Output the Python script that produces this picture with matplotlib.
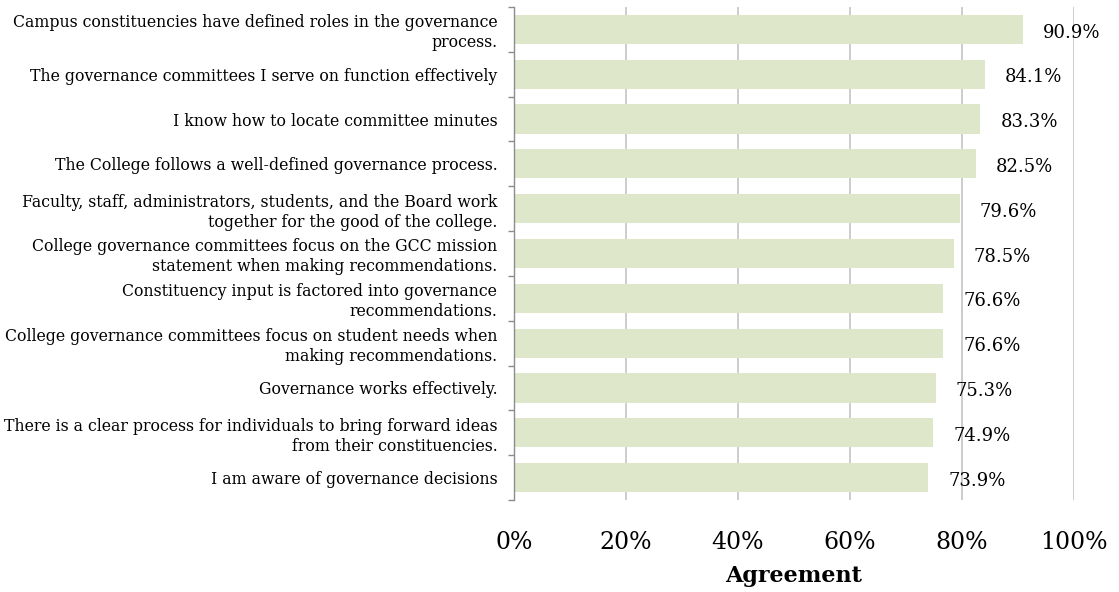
import matplotlib
matplotlib.use("Agg")
import matplotlib.pyplot as plt
import matplotlib.ticker as ticker
import numpy as np

# Survey statements, top to bottom as shown
statements = [
    "Campus constituencies have defined roles in the governance\nprocess.",
    "The governance committees I serve on function effectively",
    "I know how to locate committee minutes",
    "The College follows a well-defined governance process.",
    "Faculty, staff, administrators, students, and the Board work\ntogether for the good of the college.",
    "College governance committees focus on the GCC mission\nstatement when making recommendations.",
    "Constituency input is factored into governance\nrecommendations.",
    "College governance committees focus on student needs when\nmaking recommendations.",
    "Governance works effectively.",
    "There is a clear process for individuals to bring forward ideas\nfrom their constituencies.",
    "I am aware of governance decisions",
]
agreement = [90.9, 84.1, 83.3, 82.5, 79.6, 78.5, 76.6, 76.6, 75.3, 74.9, 73.9]
x_ticks = [0, 20, 40, 60, 80, 100]

plt.rcParams["font.family"] = ["DejaVu Serif"]

fig = plt.figure(figsize=(11.19, 5.92), dpi=100)
ax = fig.add_axes([0.4593, 0.1554, 0.5005, 0.8328])

n = len(statements)
y = np.arange(n)[::-1]
ax.barh(y, agreement, height=0.65, color="#dfe7ca", zorder=2)

# value labels to the right of each bar
for yi, v in zip(y, agreement):
    ax.text(v + 3.6, yi - 0.07, f"{v:.1f}%", va="center", ha="left",
            fontsize=13, zorder=3)

ax.set_xlim(0, 100)
ax.set_ylim(-0.5, n - 0.5)
ax.set_xticks(x_ticks)
ax.xaxis.set_major_formatter(ticker.FuncFormatter(lambda v, p: f"{v:.0f}%"))
ax.tick_params(axis="x", length=0, labelsize=17, pad=22)
ax.grid(axis="x", color="#c4c4c4", linewidth=1.2, zorder=1)

ax.set_yticks(y)
ax.set_yticklabels(statements, fontsize=11.3, linespacing=1.22)
ax.tick_params(axis="y", length=0, pad=12)
# small ticks between categories on the left spine
ax.set_yticks(np.arange(n + 1) - 0.5, minor=True)
ax.tick_params(axis="y", which="minor", length=4, width=1, color="#8c8c8c")

for side in ["top", "right", "bottom"]:
    ax.spines[side].set_visible(False)
ax.spines["left"].set_color("#8c8c8c")
ax.spines["left"].set_linewidth(1)

ax.set_xlabel("Agreement", fontsize=16, fontweight="bold", labelpad=8)

fig.savefig("out.png", dpi=100)
